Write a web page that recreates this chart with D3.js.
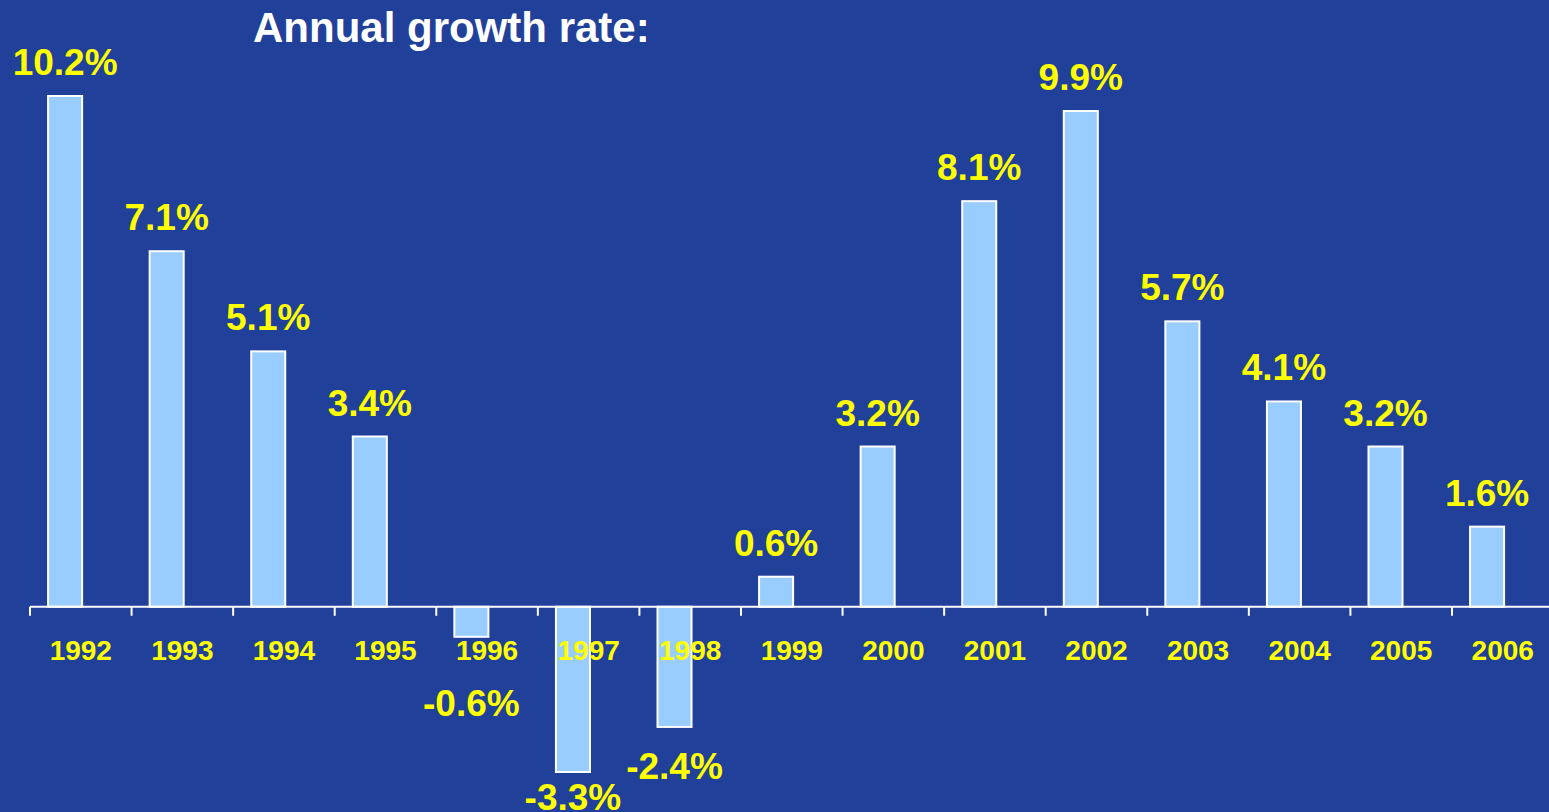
<!DOCTYPE html>
<html>
<head>
<meta charset="utf-8">
<script src="https://cdn.jsdelivr.net/npm/d3@7"></script>
<style>
  html, body { margin: 0; padding: 0; background: #21409A; overflow: hidden; }
  svg { display: block; }
  text { font-family: "Liberation Sans", Arial, sans-serif; font-weight: bold; }
</style>
</head>
<body>
<svg id="chart" width="1549" height="812"></svg>
<script>
// Annual growth rate, per year (%)
const years = ["1992","1993","1994","1995","1996","1997","1998","1999","2000","2001","2002","2003","2004","2005","2006"];
const growth = [10.2, 7.1, 5.1, 3.4, -0.6, -3.3, -2.4, 0.6, 3.2, 8.1, 9.9, 5.7, 4.1, 3.2, 1.6];
const titleText = "Annual growth rate:";

const W = 1549, H = 812;
const svg = d3.select("#chart");

svg.append("rect").attr("width", W).attr("height", H).attr("fill", "#21409A");

const x = d3.scaleBand()
  .domain(years)
  .range([30, 30 + 15 * 101.57])
  .paddingInner(0).paddingOuter(0);

const y = d3.scaleLinear()
  .domain([-3.3, 10.2])
  .range([772, 96]);

// negative labels sit below the bars and clear of the year row
const yNegLabel = d3.scaleLinear().domain([0, -3.3]).range([695, 810]);

const bw = x.bandwidth();
const barW = bw * 0.335;
const barX = d => x(d.year) + bw * 0.178;

const data = years.map((year, i) => ({ year, value: growth[i] }));

// bars
svg.append("g").selectAll("rect")
  .data(data)
  .join("rect")
  .attr("x", d => barX(d))
  .attr("width", barW)
  .attr("y", d => y(Math.max(0, d.value)))
  .attr("height", d => Math.abs(y(d.value) - y(0)))
  .attr("fill", "#99CCFF")
  .attr("stroke", "#FFFFFF")
  .attr("stroke-width", 2);

// category axis along zero, ticks between categories
const axisG = svg.append("g").attr("transform", `translate(0,${y(0)})`);
axisG.append("line")
  .attr("x1", 30).attr("x2", W)
  .attr("stroke", "#FFFFFF").attr("stroke-width", 2);
axisG.selectAll("line.tick")
  .data(years)
  .join("line")
  .attr("class", "tick")
  .attr("x1", d => x(d)).attr("x2", d => x(d))
  .attr("y1", 0).attr("y2", 9)
  .attr("stroke", "#FFFFFF").attr("stroke-width", 2);

// year labels
svg.append("g").selectAll("text")
  .data(years)
  .join("text")
  .attr("x", d => x(d) + bw / 2)
  .attr("y", 660)
  .attr("text-anchor", "middle")
  .attr("fill", "#FFFF00")
  .attr("font-size", 28)
  .text(d => d);

// value labels
svg.append("g").selectAll("text")
  .data(data)
  .join("text")
  .attr("x", d => barX(d) + barW / 2)
  .attr("y", d => d.value >= 0 ? y(d.value) - 21 : yNegLabel(d.value))
  .attr("text-anchor", "middle")
  .attr("fill", "#FFFF00")
  .attr("font-size", 37)
  .text(d => d.value.toFixed(1) + "%");

// title
svg.append("text")
  .attr("x", 253)
  .attr("y", 42)
  .attr("fill", "#FFFFFF")
  .attr("font-size", 42)
  .text(titleText);
</script>
</body>
</html>
